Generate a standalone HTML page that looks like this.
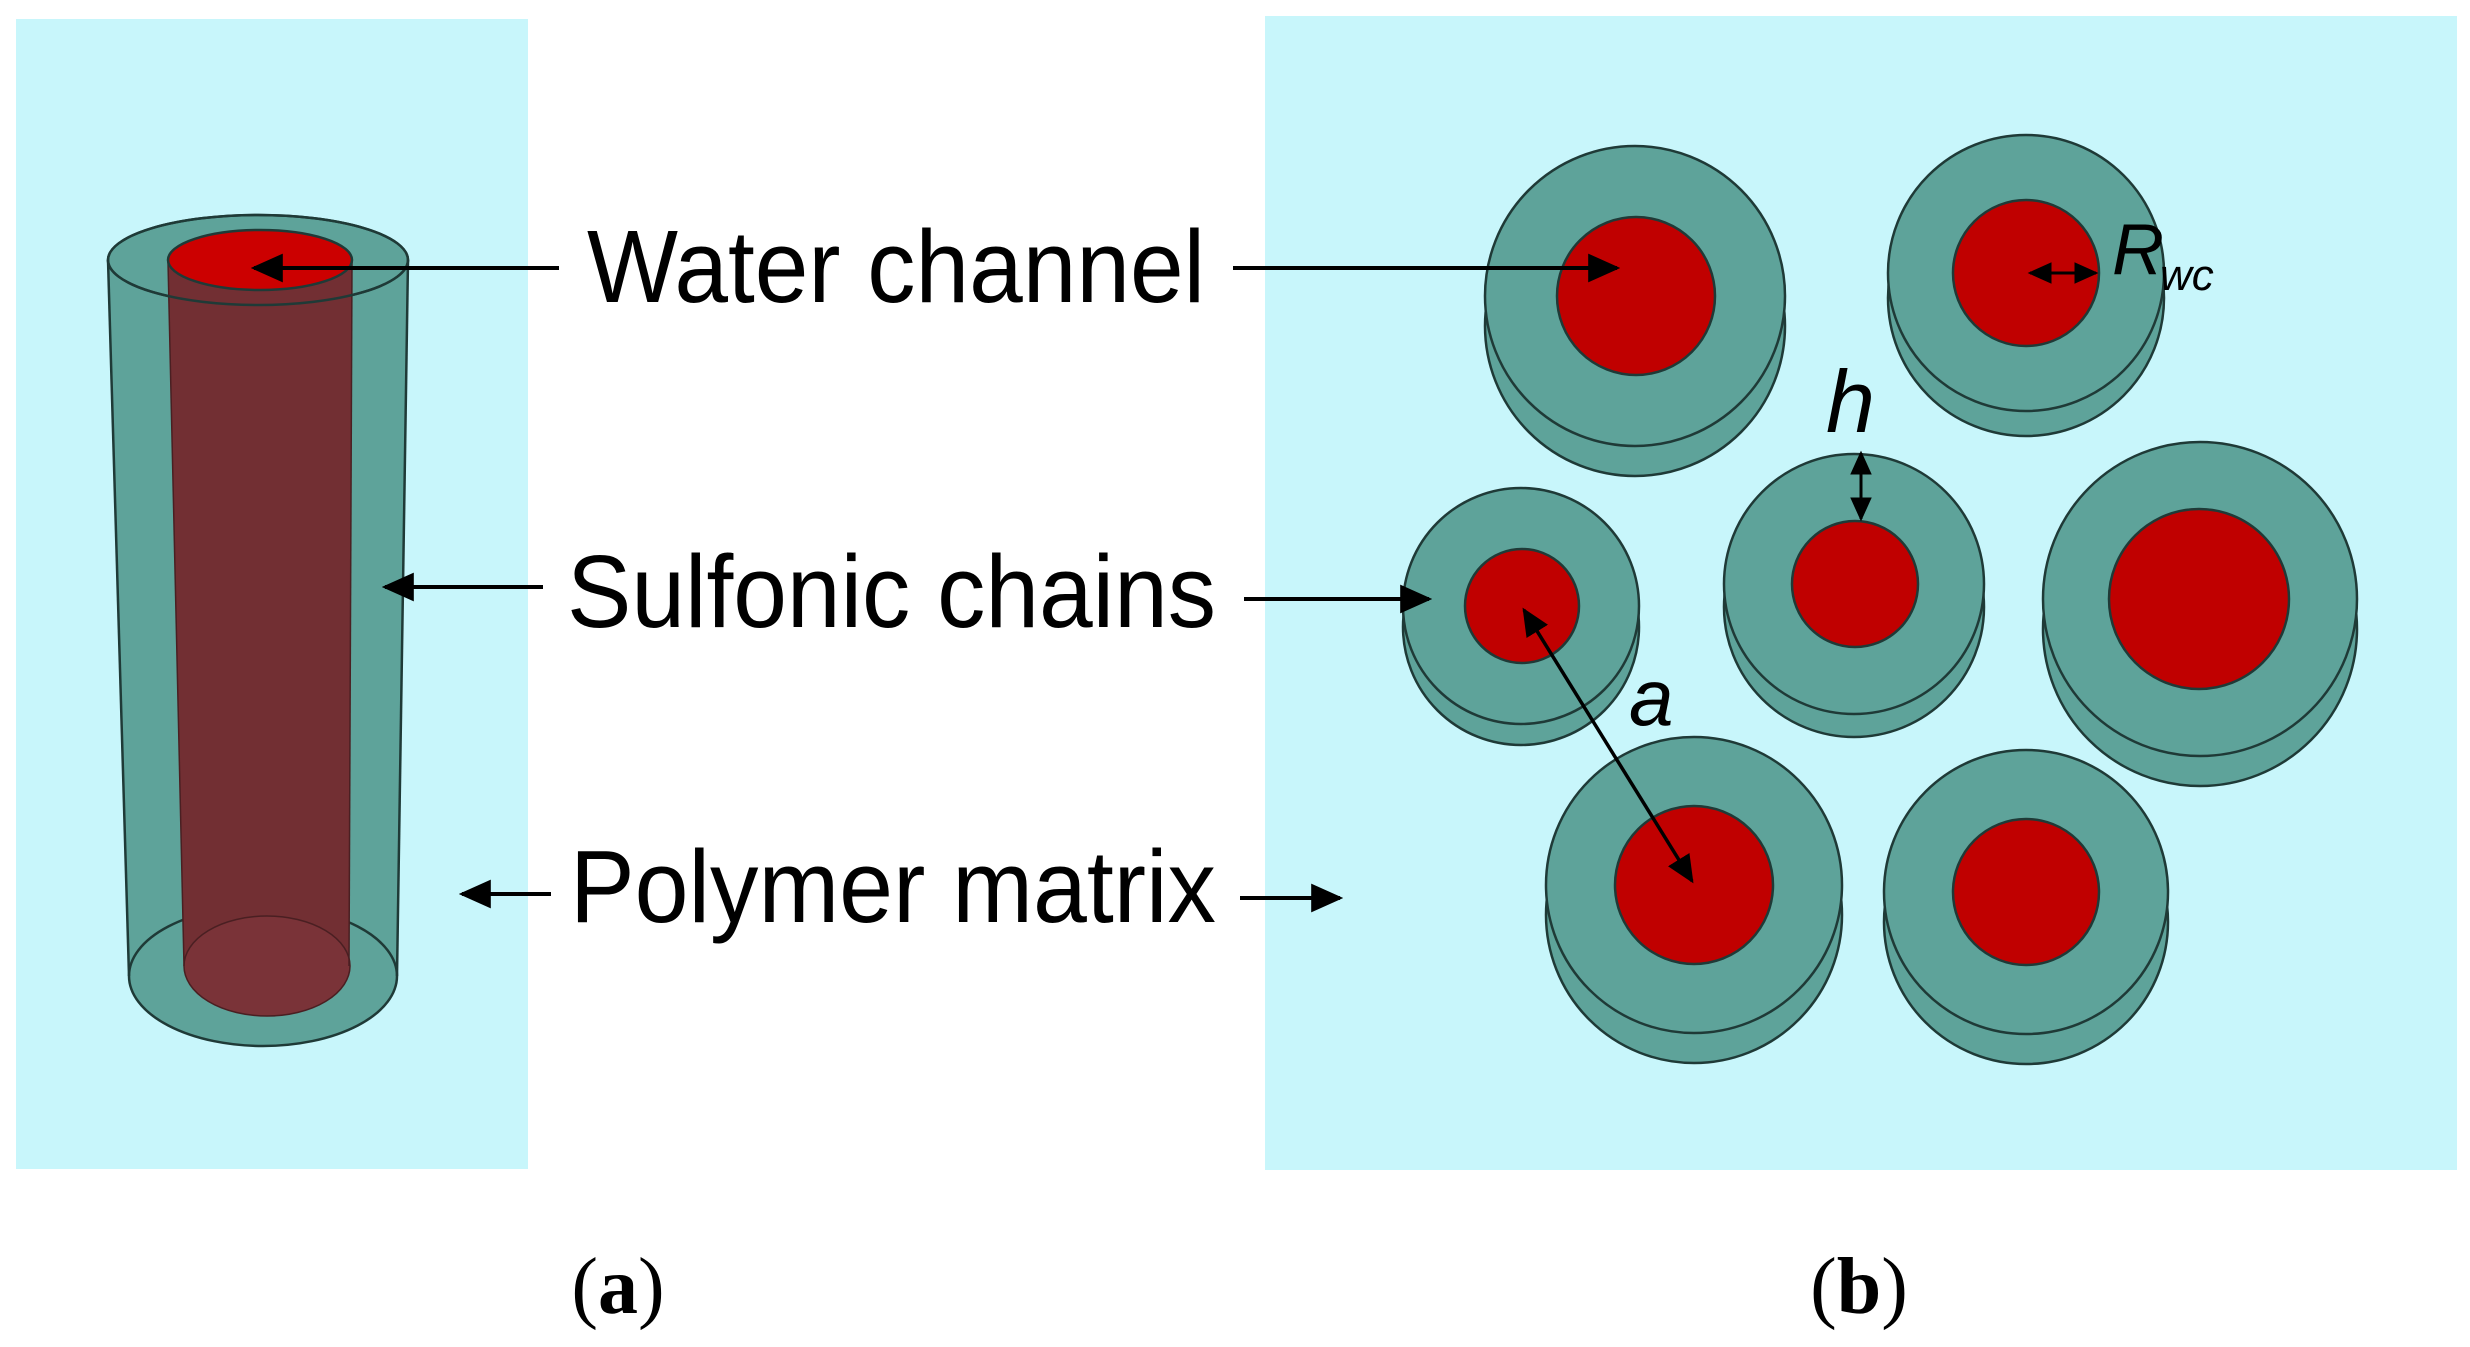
<!DOCTYPE html>
<html><head><meta charset="utf-8"><style>
html,body{margin:0;padding:0;background:#fff;}
svg{display:block;}
</style></head><body>
<svg width="2470" height="1347" viewBox="0 0 2470 1347" xmlns="http://www.w3.org/2000/svg">
<defs>
<marker id="ah" viewBox="0 0 10 10" refX="9" refY="5" markerWidth="8" markerHeight="8" markerUnits="strokeWidth" orient="auto-start-reverse">
<path d="M0,0.5 L10,5 L0,9.5 Z" fill="#000"/>
</marker>
</defs>
<rect x="16" y="19" width="512" height="1150" fill="#c8f6fb"/>
<rect x="1265" y="16" width="1192" height="1154" fill="#c8f6fb"/>

<!-- cylinder -->
<g stroke="#1f3a37" stroke-width="2.5">
<polygon points="108,260 408,260 397,976 129,976" fill="#5ea39a" stroke="none"/>
<ellipse cx="263" cy="976" rx="134" ry="70" fill="#5ea39a"/>
<line x1="108" y1="260" x2="129" y2="976"/>
<line x1="408" y1="260" x2="397" y2="976"/>
<ellipse cx="258" cy="260" rx="150" ry="45" fill="#5ea39a"/>
<polygon points="168,262 352,262 349,966 184,966" fill="#722f33" stroke="none"/>
<ellipse cx="267" cy="966" rx="83" ry="50" fill="#7a3338" stroke="#4a1f22" stroke-width="1.5"/>
<line x1="168" y1="262" x2="184" y2="966" stroke="#4a1f22" stroke-width="1.5"/>
<line x1="352" y1="262" x2="349" y2="966" stroke="#4a1f22" stroke-width="1.5"/>
<ellipse cx="260" cy="260" rx="92" ry="30" fill="#cc0000"/>
<path d="M108,260 A150,45 0 0 0 408,260" fill="none"/>
<path d="M108,260 A150,45 0 0 1 408,260" fill="none"/>
</g>

<!-- labels -->
<g font-family="'Liberation Sans', Arial, sans-serif" font-size="103" fill="#000">
<text x="587" y="302" textLength="618" lengthAdjust="spacingAndGlyphs">Water channel</text>
<text x="567" y="627" textLength="649" lengthAdjust="spacingAndGlyphs">Sulfonic chains</text>
<text x="570" y="922" textLength="646" lengthAdjust="spacingAndGlyphs">Polymer matrix</text>
</g>

<!-- disks -->
<g stroke="#1f3a37" stroke-width="2.5" fill="#5ea39a">
<circle cx="1635" cy="326" r="150"/><circle cx="1635" cy="296" r="150"/>
<circle cx="1636" cy="296" r="79" fill="#c00000"/>
<circle cx="2026" cy="298" r="138"/><circle cx="2026" cy="273" r="138"/>
<circle cx="2026" cy="273" r="73" fill="#c00000"/>
<circle cx="1521" cy="627" r="118"/><circle cx="1521" cy="606" r="118"/>
<circle cx="1522" cy="606" r="57" fill="#c00000"/>
<circle cx="1854" cy="607" r="130"/><circle cx="1854" cy="584" r="130"/>
<circle cx="1855" cy="584" r="63" fill="#c00000"/>
<circle cx="2200" cy="629" r="157"/><circle cx="2200" cy="599" r="157"/>
<circle cx="2199" cy="599" r="90" fill="#c00000"/>
<circle cx="1694" cy="915" r="148"/><circle cx="1694" cy="885" r="148"/>
<circle cx="1694" cy="885" r="79" fill="#c00000"/>
<circle cx="2026" cy="922" r="142"/><circle cx="2026" cy="892" r="142"/>
<circle cx="2026" cy="892" r="73" fill="#c00000"/>
</g>

<!-- arrows -->
<g stroke="#000" stroke-width="4" fill="none">
<line x1="559" y1="268" x2="254" y2="268" marker-end="url(#ah)"/>
<line x1="1233" y1="268" x2="1617" y2="268" marker-end="url(#ah)"/>
<line x1="543" y1="587" x2="385" y2="587" marker-end="url(#ah)"/>
<line x1="1244" y1="599" x2="1429" y2="599" marker-end="url(#ah)"/>
<line x1="551" y1="894" x2="462" y2="894" marker-end="url(#ah)"/>
<line x1="1240" y1="898" x2="1340" y2="898" marker-end="url(#ah)"/>
<line x1="2030" y1="273" x2="2096" y2="273" stroke-width="3" marker-start="url(#ah)" marker-end="url(#ah)"/>
<line x1="1861" y1="453" x2="1861" y2="519" stroke-width="3" marker-start="url(#ah)" marker-end="url(#ah)"/>
<line x1="1524" y1="610" x2="1692" y2="881" stroke-width="3.5" marker-start="url(#ah)" marker-end="url(#ah)"/>
</g>

<g font-family="'Liberation Sans', Arial, sans-serif" font-style="italic" fill="#000">
<text x="2112" y="274" font-size="72">R</text>
<text x="2160" y="290" font-size="44">wc</text>
<text x="1826" y="432" font-size="88">h</text>
<text x="1629" y="725" font-size="80">a</text>
</g>

<g font-family="'Liberation Serif', 'Times New Roman', serif" font-size="80" fill="#000" text-anchor="middle">
<text x="618" y="1313">(<tspan font-weight="bold">a</tspan>)</text>
<text x="1859" y="1313">(<tspan font-weight="bold">b</tspan>)</text>
</g>
</svg>
</body></html>
